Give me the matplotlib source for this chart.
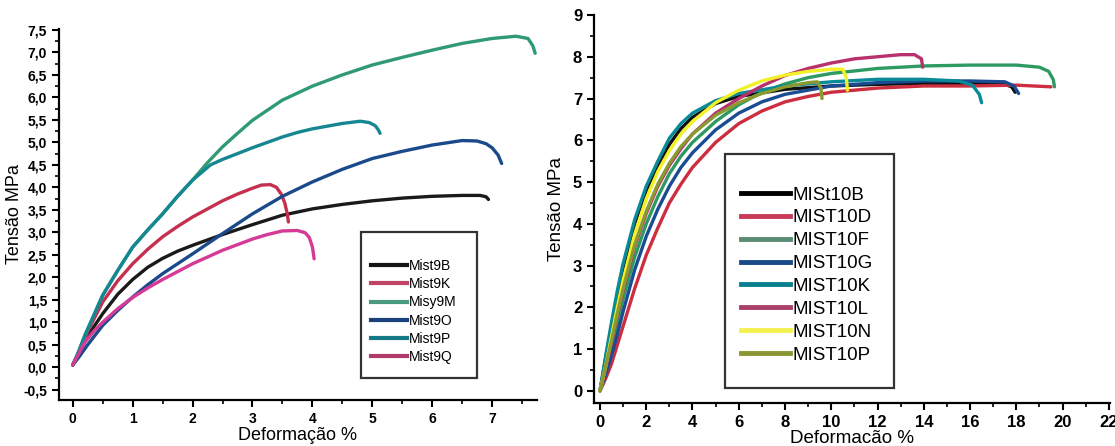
import matplotlib
matplotlib.use("Agg")
import matplotlib.pyplot as plt
from matplotlib.patches import Rectangle
from matplotlib.ticker import MultipleLocator

plt.rcParams["font.family"] = ["Liberation Sans", "DejaVu Sans"]

# ---- Mist9 series (left panel): strain %, stress MPa ----
mist9_labels = ["Mist9B", "Mist9K", "Misy9M", "Mist9O", "Mist9P", "Mist9Q"]
mist9_curve_colors = ["#1a1a1a", "#c4304e", "#2f9a74", "#1a4a8c", "#168792", "#d53a94"]
mist9_legend_colors = ["#151515", "#c04466", "#4a9a80", "#1a3f7a", "#157a85", "#b03a6a"]

mist9b_x = [0.0, 0.1, 0.25, 0.5, 0.75, 1.0, 1.25, 1.5, 1.75, 2.0, 2.5, 3.0, 3.5, 4.0, 4.5,
            5.0, 5.5, 6.0, 6.5, 6.8, 6.9, 6.94]
mist9b_y = [0.05, 0.3, 0.7, 1.19, 1.62, 1.95, 2.22, 2.42, 2.58, 2.71, 2.95, 3.17, 3.38, 3.52, 3.62,
            3.7, 3.76, 3.8, 3.82, 3.82, 3.79, 3.73]

mist9k_x = [0.0, 0.1, 0.25, 0.5, 0.75, 1.0, 1.25, 1.5, 1.75, 2.0, 2.5, 2.75, 3.0, 3.15, 3.3,
            3.4, 3.48, 3.54, 3.58, 3.6]
mist9k_y = [0.05, 0.3, 0.8, 1.45, 1.92, 2.3, 2.62, 2.9, 3.13, 3.34, 3.7, 3.85, 3.98, 4.05, 4.06,
            4.0, 3.85, 3.65, 3.42, 3.23]

mist9m_x = [0.0, 0.1, 0.2, 0.3, 0.4, 0.5, 0.75, 1.0, 1.25, 1.5, 1.75, 2.0, 2.25, 2.5, 2.75, 3.0,
            3.5, 4.0, 4.5, 5.0, 5.5, 6.0, 6.5, 7.0, 7.4, 7.6, 7.68, 7.72]
mist9m_y = [0.05, 0.35, 0.7, 1.0, 1.3, 1.6, 2.15, 2.67, 3.05, 3.41, 3.8, 4.16, 4.55, 4.9, 5.2, 5.49,
            5.94, 6.25, 6.5, 6.72, 6.89, 7.05, 7.2, 7.31, 7.36, 7.31, 7.15, 6.98]

mist9o_x = [0.0, 0.1, 0.25, 0.5, 0.75, 1.0, 1.25, 1.5, 1.75, 2.0, 2.5, 3.0, 3.5, 4.0, 4.5,
            5.0, 5.5, 6.0, 6.5, 6.75, 6.9, 7.0, 7.1, 7.16]
mist9o_y = [0.05, 0.22, 0.5, 0.93, 1.26, 1.56, 1.83, 2.08, 2.3, 2.52, 2.97, 3.41, 3.8, 4.12, 4.4,
            4.64, 4.8, 4.94, 5.04, 5.03, 4.97, 4.88, 4.72, 4.53]

mist9p_x = [0.0, 0.1, 0.2, 0.3, 0.4, 0.5, 0.75, 1.0, 1.25, 1.5, 1.75, 2.0, 2.3, 2.5, 2.75, 3.0,
            3.25, 3.5, 3.75, 4.0, 4.25, 4.5, 4.8, 4.95, 5.05, 5.1, 5.13]
mist9p_y = [0.05, 0.35, 0.7, 1.0, 1.3, 1.6, 2.15, 2.67, 3.05, 3.41, 3.8, 4.16, 4.5, 4.62, 4.75, 4.88,
            5.0, 5.12, 5.22, 5.3, 5.36, 5.42, 5.47, 5.44, 5.37, 5.28, 5.2]

mist9q_x = [0.0, 0.1, 0.2, 0.35, 0.5, 0.75, 1.0, 1.25, 1.5, 2.0, 2.5, 3.0, 3.25, 3.5, 3.75,
            3.88, 3.95, 4.0, 4.03]
mist9q_y = [0.05, 0.3, 0.55, 0.8, 1.0, 1.3, 1.55, 1.76, 1.95, 2.3, 2.6, 2.85, 2.95, 3.03, 3.04,
            2.99, 2.88, 2.68, 2.41]

mist9_x = [mist9b_x, mist9k_x, mist9m_x, mist9o_x, mist9p_x, mist9q_x]
mist9_y = [mist9b_y, mist9k_y, mist9m_y, mist9o_y, mist9p_y, mist9q_y]

# ---- MIST10 series (right panel) ----
mist10_labels = ["MISt10B", "MIST10D", "MIST10F", "MIST10G", "MIST10K", "MIST10L", "MIST10N", "MIST10P"]
mist10_curve_colors = ["#101010", "#cc2e40", "#2e9a62", "#1a4c94", "#0a8a98", "#b8306c", "#f2f026", "#8a9a30"]
mist10_legend_colors = ["#000000", "#c83a58", "#5a8c74", "#1a4a88", "#08808f", "#a8406a", "#f4f250", "#8a9634"]

mist10b_x = [0.0, 0.25, 0.5, 0.75, 1.0, 1.5, 2.0, 2.5, 3.0, 3.5, 4.0, 5.0, 6.0, 8.0, 10.0, 12.0,
             14.0, 16.0, 17.5, 17.8, 17.95]
mist10b_y = [0.0, 0.8, 1.55, 2.3, 2.95, 4.0, 4.8, 5.4, 5.9, 6.28, 6.55, 6.88, 7.05, 7.22, 7.3, 7.34,
             7.36, 7.36, 7.34, 7.28, 7.15]

mist10d_x = [0.0, 0.25, 0.5, 0.75, 1.0, 1.5, 2.0, 2.5, 3.0, 3.5, 4.0, 5.0, 6.0, 7.0, 8.0, 9.0,
             10.0, 12.0, 14.0, 16.0, 18.0, 19.5]
mist10d_y = [0.0, 0.3, 0.65, 1.1, 1.55, 2.45, 3.25, 3.9, 4.5, 4.95, 5.35, 5.95, 6.4, 6.7, 6.92, 7.05,
             7.15, 7.25, 7.3, 7.3, 7.32, 7.28]

mist10f_x = [0.0, 0.25, 0.5, 0.75, 1.0, 1.5, 2.0, 2.5, 3.0, 3.5, 4.0, 5.0, 6.0, 7.0, 8.0, 9.0,
             10.0, 12.0, 14.0, 16.0, 18.0, 19.0, 19.4, 19.6, 19.65]
mist10f_y = [0.0, 0.5, 1.0, 1.6, 2.2, 3.2, 4.0, 4.65, 5.2, 5.62, 5.95, 6.45, 6.85, 7.15, 7.35, 7.5,
             7.6, 7.72, 7.78, 7.8, 7.8, 7.75, 7.65, 7.45, 7.28]

mist10g_x = [0.0, 0.25, 0.5, 0.75, 1.0, 1.5, 2.0, 2.5, 3.0, 3.5, 4.0, 5.0, 6.0, 7.0, 8.0, 10.0,
             12.0, 14.0, 16.0, 17.5, 17.9, 18.1]
mist10g_y = [0.0, 0.4, 0.85, 1.35, 1.9, 2.9, 3.7, 4.35, 4.9, 5.35, 5.7, 6.25, 6.65, 6.92, 7.1, 7.3,
             7.38, 7.42, 7.42, 7.4, 7.3, 7.12]

mist10k_x = [0.0, 0.25, 0.5, 0.75, 1.0, 1.5, 2.0, 2.5, 3.0, 3.5, 4.0, 5.0, 6.0, 8.0, 10.0, 12.0,
             14.0, 15.5, 16.1, 16.4, 16.5]
mist10k_y = [0.0, 0.85, 1.65, 2.4, 3.05, 4.1, 4.9, 5.5, 6.05, 6.4, 6.65, 6.95, 7.12, 7.3, 7.4, 7.46,
             7.46, 7.42, 7.32, 7.1, 6.9]

mist10l_x = [0.0, 0.25, 0.5, 0.75, 1.0, 1.5, 2.0, 2.5, 3.0, 3.5, 4.0, 5.0, 6.0, 7.0, 8.0, 9.0,
             10.0, 11.0, 12.0, 13.0, 13.6, 13.9, 13.95]
mist10l_y = [0.0, 0.55, 1.15, 1.8, 2.4, 3.45, 4.25, 4.9, 5.4, 5.8, 6.15, 6.65, 7.0, 7.3, 7.55, 7.72,
             7.85, 7.95, 8.0, 8.05, 8.05, 7.95, 7.75]

mist10n_x = [0.0, 0.25, 0.5, 0.75, 1.0, 1.5, 2.0, 2.5, 3.0, 3.5, 4.0, 5.0, 6.0, 7.0, 8.0, 9.0,
             10.0, 10.5, 10.65, 10.7]
mist10n_y = [0.0, 0.6, 1.3, 2.0, 2.65, 3.75, 4.6, 5.25, 5.75, 6.15, 6.45, 6.9, 7.2, 7.42, 7.56, 7.65,
             7.7, 7.7, 7.5, 7.2]

mist10p_x = [0.0, 0.25, 0.5, 0.75, 1.0, 1.5, 2.0, 2.5, 3.0, 3.5, 4.0, 5.0, 6.0, 7.0, 8.0, 9.0,
             9.4, 9.55, 9.6]
mist10p_y = [0.0, 0.6, 1.2, 1.85, 2.45, 3.5, 4.3, 4.95, 5.45, 5.85, 6.15, 6.6, 6.9, 7.12, 7.28, 7.38,
             7.4, 7.25, 7.0]

mist10_x = [mist10b_x, mist10d_x, mist10f_x, mist10g_x, mist10k_x, mist10l_x, mist10n_x, mist10p_x]
mist10_y = [mist10b_y, mist10d_y, mist10f_y, mist10g_y, mist10k_y, mist10l_y, mist10n_y, mist10p_y]


def style_axes(ax, tick_size):
    for side in ["top", "right"]:
        ax.spines[side].set_visible(False)
    for side in ["left", "bottom"]:
        ax.spines[side].set_linewidth(1.6)
    ax.tick_params(which="major", direction="out", length=5, width=1.5,
                   labelsize=tick_size)
    ax.tick_params(which="minor", direction="out", length=3, width=1.2)
    for lbl in ax.get_xticklabels() + ax.get_yticklabels():
        lbl.set_fontweight("bold")


def legend_block(ax, box, labels, colors, fontsize, spacing, handle_lw, anchor):
    # framed box drawn by hand, legend entries placed inside it
    ax.add_patch(Rectangle(box[:2], box[2], box[3], transform=ax.transAxes,
                           fill=False, edgecolor="#333333", linewidth=1.6,
                           zorder=5))
    handles = [plt.Line2D([], [], color=c, lw=handle_lw) for c in colors]
    ax.legend(handles, labels, loc="upper left", bbox_to_anchor=anchor,
              frameon=False, fontsize=fontsize, handlelength=2.6,
              handletextpad=0.15, labelspacing=spacing, borderaxespad=0,
              borderpad=0)


fig = plt.figure(figsize=(11.15, 4.46), dpi=100)

# left panel
ax1 = fig.add_axes([0.0529, 0.1031, 0.4287, 0.8318])
for xs, ys, c in zip(mist9_x, mist9_y, mist9_curve_colors):
    ax1.plot(xs, ys, color=c, lw=2.4, solid_capstyle="round", solid_joinstyle="round")
ax1.set_xlim(-0.23, 7.75)
ax1.xaxis.set_major_locator(MultipleLocator(1))
ax1.xaxis.set_minor_locator(MultipleLocator(0.5))
yticks = [-0.5 + 0.5 * i for i in range(17)]
ax1.set_yticks(yticks)
ax1.set_yticklabels([f"{v:.1f}".replace(".", ",") for v in yticks])
ax1.yaxis.set_minor_locator(MultipleLocator(0.25))
ax1.set_ylim(-0.73, 7.52)
style_axes(ax1, 10)
ax1.set_xlabel("Deformação %", fontsize=13, labelpad=1)
ax1.set_ylabel("Tensão MPa", fontsize=13, labelpad=0)
legend_block(ax1, (0.632, 0.059, 0.243, 0.394), mist9_labels,
             mist9_legend_colors, 10, 0.3, 3.0, (0.652, 0.38))

# right panel
ax2 = fig.add_axes([0.5327, 0.0964, 0.4628, 0.870])
for xs, ys, c in zip(mist10_x, mist10_y, mist10_curve_colors):
    ax2.plot(xs, ys, color=c, lw=2.4, solid_capstyle="round", solid_joinstyle="round")
ax2.set_xlim(-0.26, 22.05)
ax2.set_ylim(-0.29, 9.0)
ax2.xaxis.set_major_locator(MultipleLocator(2))
ax2.xaxis.set_minor_locator(MultipleLocator(1))
ax2.yaxis.set_major_locator(MultipleLocator(1))
ax2.yaxis.set_minor_locator(MultipleLocator(0.5))
style_axes(ax2, 12)
ax2.set_xlabel("Deformacão %", fontsize=13.5, labelpad=0)
ax2.set_ylabel("Tensão MPa", fontsize=13.5, labelpad=6)
legend_block(ax2, (0.254, 0.039, 0.328, 0.603), mist10_labels,
             mist10_legend_colors, 13.5, 0.305, 3.5, (0.285, 0.558))

fig.savefig("out.png", dpi=100)
